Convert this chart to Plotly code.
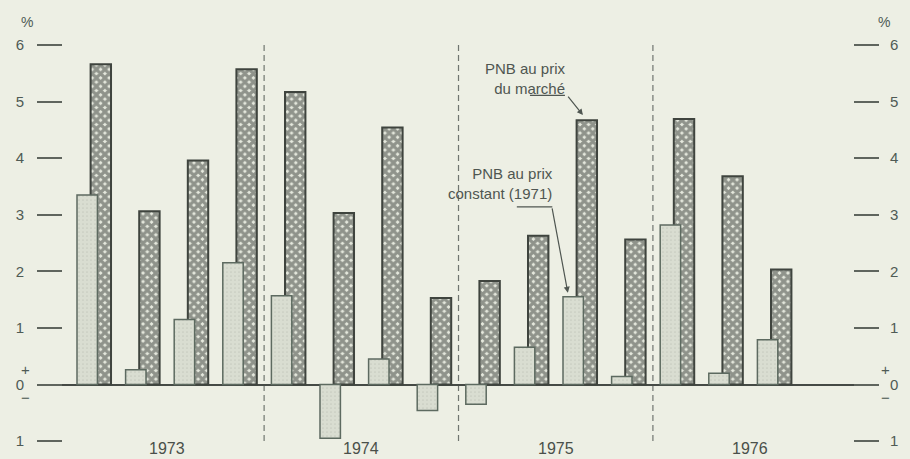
import plotly.graph_objects as go

# ---- data ----
years = ["1973", "1974", "1975", "1976"]
quarter_year = ["1973"] * 4 + ["1974"] * 4 + ["1975"] * 4 + ["1976"] * 4
pnb_constant_1971 = [3.35, 0.26, 1.15, 2.15, 1.57, -0.95, 0.45, -0.46,
                     -0.35, 0.66, 1.55, 0.14, 2.82, 0.20, 0.79, None]
pnb_marche = [5.66, 3.06, 3.96, 5.57, 5.17, 3.03, 4.54, 1.53,
              1.83, 2.63, 4.67, 2.56, 4.69, 3.68, 2.03, None]
tick_vals = [-1, 0, 1, 2, 3, 4, 5, 6]
tick_text = ["1", "0", "1", "2", "3", "4", "5", "6"]

idx = list(range(len(quarter_year)))

BG = "#edefe4"
TXT = "#4f5b55"
FONT = "Liberation Sans, Arial, sans-serif"

fig = go.Figure()

fig.add_trace(go.Bar(
    x=idx, y=pnb_marche, width=0.42, offset=-0.07,
    marker=dict(color="#e4e7db",
                line=dict(color="#3f443e", width=2),
                pattern=dict(shape="x", fgcolor="#383d38", bgcolor="#e6e9de",
                             size=6, solidity=0.78)),
    showlegend=False, hoverinfo="skip"))

fig.add_trace(go.Bar(
    x=idx, y=pnb_constant_1971, width=0.42, offset=-0.35,
    marker=dict(color="#d9ddd1",
                line=dict(color="#5d6a60", width=1.5),
                pattern=dict(shape=".", fgcolor="#b3b8ad", bgcolor="#d9ddd1",
                             size=4, solidity=0.15)),
    showlegend=False, hoverinfo="skip"))

# dummy trace to activate right axis
fig.add_trace(go.Scatter(x=[None], y=[None], yaxis="y2", showlegend=False,
                         hoverinfo="skip"))

yr = [-1.2456, 6.617]
fig.update_layout(
    width=910, height=459,
    margin=dict(l=37, r=31, t=10, b=4),
    paper_bgcolor=BG, plot_bgcolor=BG,
    barmode="overlay",
    font=dict(family=FONT, color=TXT),
    xaxis=dict(range=[-1.173, 16.152], showticklabels=False, showgrid=False,
               zeroline=False, showline=False, ticks=""),
    yaxis=dict(range=yr, tickvals=tick_vals, ticktext=tick_text,
               ticks="inside", ticklen=25, tickwidth=1.5, tickcolor="#5f655e",
               ticklabelstandoff=12, tickfont=dict(size=15, color=TXT, family=FONT),
               showgrid=False, showline=False,
               zeroline=True, zerolinecolor="#454a45", zerolinewidth=2),
    yaxis2=dict(range=yr, overlaying="y", side="right", tickvals=tick_vals,
                ticktext=tick_text, ticks="inside", ticklen=25, tickwidth=1.5,
                tickcolor="#5f655e", ticklabelstandoff=10,
                tickfont=dict(size=15, color=TXT, family=FONT),
                showgrid=False, showline=False, zeroline=False),
)

# year separators (dashed)
for k in range(1, len(years)):
    xb = (quarter_year.index(years[k]) - 0.5)
    fig.add_shape(type="line", x0=xb, x1=xb, y0=6.0, y1=-1.07, xref="x", yref="y",
                  line=dict(color="#707570", width=1.2, dash="6px,4px"), layer="below")

annotations = []
# year labels
for y in years:
    members = [i for i, q in enumerate(quarter_year) if q == y]
    annotations.append(dict(x=sum(members) / len(members), y=-1.135, xref="x", yref="y",
                            text=y, showarrow=False,
                            font=dict(size=16, color="#4a504a", family=FONT)))

# % signs and +/- around zero
for side, xp, xs in (("l", 0, -18), ("r", 1, 13)):
    annotations.append(dict(x=xp, y=6.4, xref="paper", yref="y", xshift=xs, text="%",
                            showarrow=False, font=dict(size=14, color=TXT, family=FONT)))
    annotations.append(dict(x=xp, y=0, xref="paper", yref="y", xshift=xs, yshift=15,
                            text="+", showarrow=False,
                            font=dict(size=15, color=TXT, family=FONT)))
    annotations.append(dict(x=xp, y=0, xref="paper", yref="y", xshift=xs, yshift=-13,
                            text="−", showarrow=False,
                            font=dict(size=15, color=TXT, family=FONT)))

q = 10  # 1975 Q3
# "PNB au prix du marché"
annotations.append(dict(x=q - 0.25, y=5.415, xref="x", yref="y", xanchor="right",
                        align="right", text="PNB au prix<br>du marché", showarrow=False,
                        font=dict(size=15, color="#4f5651", family=FONT)))
annotations.append(dict(x=q + 0.06, y=pnb_marche[q] + 0.09, xref="x", yref="y",
                        text="", showarrow=True, ax=-16, ay=-20, arrowhead=2,
                        arrowsize=1, arrowwidth=1.2, arrowcolor="#4f5651"))
fig.add_shape(type="line", x0=q - 1.03, x1=q - 0.31, y0=5.11, y1=5.11,
              xref="x", yref="y", line=dict(color="#4f5651", width=1.2))

# "PNB au prix constant (1971)"
annotations.append(dict(x=q - 0.51, y=3.56, xref="x", yref="y", xanchor="right",
                        align="right", text="PNB au prix<br>constant (1971)",
                        showarrow=False, font=dict(size=15, color="#4f5651", family=FONT)))
annotations.append(dict(x=q - 0.25, y=pnb_constant_1971[q] + 0.07, xref="x", yref="y",
                        text="", showarrow=True, ax=-16, ay=-86, arrowhead=2,
                        arrowsize=1, arrowwidth=1.2, arrowcolor="#4f5651"))
fig.add_shape(type="line", x0=q - 1.3, x1=q - 0.57, y0=3.14, y1=3.14,
              xref="x", yref="y", line=dict(color="#4f5651", width=1.2))

fig.update_layout(annotations=annotations)
fig.write_html("out.html",
               config={"displayModeBar": False},
               post_script="document.body.style.margin='0px';"
                           "document.body.style.background='" + BG + "';")
